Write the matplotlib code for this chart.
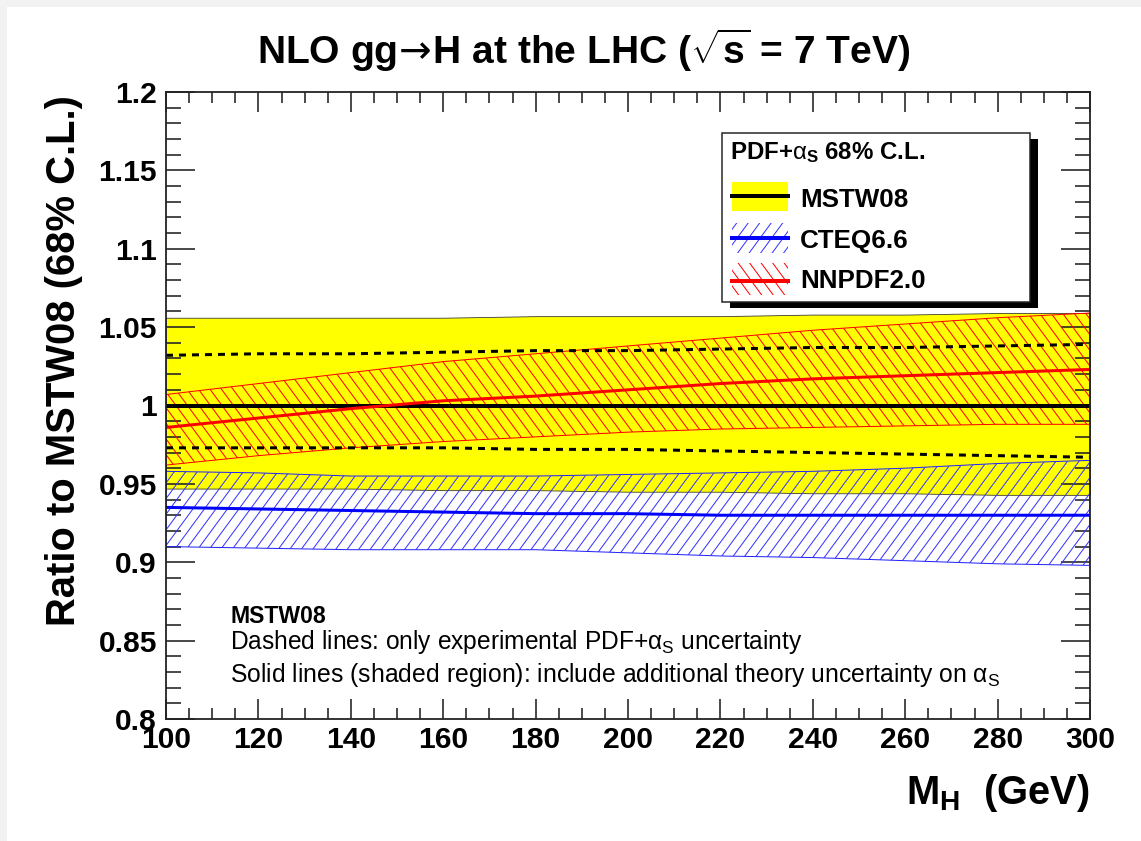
import numpy as np
import matplotlib
matplotlib.use("Agg")
from matplotlib import pyplot as plt
from matplotlib.patches import Rectangle
from matplotlib.collections import LineCollection
from matplotlib.ticker import MultipleLocator, FuncFormatter

# Higgs mass points (GeV)
mass = [100, 120, 140, 160, 180, 200, 220, 240, 260, 280, 300]

# MSTW08: full band (incl. alpha_s theory unc.) and experimental-only band
mstw_hi = [1.056, 1.056, 1.056, 1.056, 1.057, 1.057, 1.057, 1.058, 1.058, 1.059, 1.059]
mstw_lo = [0.947, 0.947, 0.947, 0.946, 0.946, 0.945, 0.945, 0.944, 0.944, 0.943, 0.943]
mstw_exp_hi = [1.032, 1.033, 1.033, 1.034, 1.035, 1.035, 1.036, 1.037, 1.037, 1.038, 1.039]
mstw_exp_lo = [0.973, 0.973, 0.973, 0.973, 0.972, 0.972, 0.971, 0.970, 0.969, 0.968, 0.967]
mstw_c = [1.0] * len(mass)

# CTEQ6.6
cteq_c = [0.935, 0.934, 0.933, 0.932, 0.931, 0.931, 0.930, 0.930, 0.930, 0.930, 0.930]
cteq_hi = [0.958, 0.957, 0.955, 0.955, 0.955, 0.956, 0.957, 0.958, 0.960, 0.963, 0.965]
cteq_lo = [0.910, 0.909, 0.908, 0.908, 0.908, 0.906, 0.904, 0.903, 0.901, 0.899, 0.898]

# NNPDF2.0
nnpdf_c = [0.986, 0.992, 0.998, 1.003, 1.006, 1.010, 1.014, 1.017, 1.019, 1.021, 1.023]
nnpdf_hi = [1.007, 1.014, 1.021, 1.028, 1.033, 1.038, 1.043, 1.048, 1.052, 1.056, 1.059]
nnpdf_lo = [0.962, 0.968, 0.973, 0.977, 0.980, 0.983, 0.985, 0.986, 0.987, 0.988, 0.988]

plt.rcParams['font.family'] = ['Liberation Sans', 'DejaVu Sans']
plt.rcParams['font.weight'] = 'bold'
plt.rcParams['mathtext.fontset'] = 'custom'
plt.rcParams['mathtext.rm'] = 'Liberation Sans:weight=normal'
plt.rcParams['mathtext.it'] = 'Liberation Sans:weight=normal'
plt.rcParams['mathtext.bf'] = 'Liberation Sans:weight=bold'
plt.rcParams['mathtext.sf'] = 'DejaVu Sans:weight=normal'
plt.rcParams['mathtext.default'] = 'rm'
plt.rcParams['lines.scale_dashes'] = False

W, H = 1141, 841
AX_W, AX_H = 924, 627
fig = plt.figure(figsize=(W / 72, H / 72), dpi=72)
fig.patch.set_facecolor('white')
# thin grey margin on the top and left
fig.patches.append(Rectangle((0, 1 - 7 / H), 1, 7 / H, transform=fig.transFigure,
                             facecolor='#f2f2f2', edgecolor='none', zorder=-10))
fig.patches.append(Rectangle((0, 0), 7 / W, 1, transform=fig.transFigure,
                             facecolor='#f2f2f2', edgecolor='none', zorder=-10))

ax = fig.add_axes([166 / W, 122 / H, AX_W / W, AX_H / H])


def hatch_lines(color, direction, clip, clip_trans=None, zorder=2):
    # diagonal hatching (about 54 deg on screen, 11.5 px apart) clipped to a shape
    step = 11.5 / AX_W
    run = 1.0 / (1.36 * AX_W / AX_H)
    segs = []
    for c in np.arange(-run - step, 1 + run + step, step):
        if direction > 0:
            segs.append([(c, 0), (c + run, 1)])
        else:
            segs.append([(c, 0), (c - run, 1)])
    lc = LineCollection(segs, colors=color, linewidths=1.0, transform=ax.transAxes, zorder=zorder)
    ax.add_collection(lc, autolim=False)
    if clip_trans is None:
        lc.set_clip_path(clip)
    else:
        lc.set_clip_path(clip, clip_trans)
    return lc


# bands
ax.fill_between(mass, mstw_lo, mstw_hi, facecolor='#ffff00', edgecolor='#333333', linewidth=0.8, zorder=1)
nn_band = ax.fill_between(mass, nnpdf_lo, nnpdf_hi, facecolor='none', edgecolor='#ff0000',
                          linewidth=1.0, zorder=2)
hatch_lines('#ff0000', -1, nn_band.get_paths()[0], ax.transData)
ct_band = ax.fill_between(mass, cteq_lo, cteq_hi, facecolor='none', edgecolor='#2222ff',
                          linewidth=1.0, zorder=2)
hatch_lines('#3333ff', 1, ct_band.get_paths()[0], ax.transData)

# central values and experimental-only MSTW08 limits
ax.plot(mass, mstw_exp_hi, color='black', linewidth=3, dashes=(7, 6), zorder=3)
ax.plot(mass, mstw_exp_lo, color='black', linewidth=3, dashes=(7, 6), zorder=3)
ax.plot(mass, mstw_c, color='black', linewidth=4, zorder=4)
ax.plot(mass, cteq_c, color='#0000ff', linewidth=3, zorder=4)
ax.plot(mass, nnpdf_c, color='#ff0000', linewidth=3, zorder=5)

ax.set_xlim(100, 300)
ax.set_ylim(0.8, 1.2)

ax.xaxis.set_major_locator(MultipleLocator(20))
ax.xaxis.set_minor_locator(MultipleLocator(5))
ax.yaxis.set_major_locator(MultipleLocator(0.05))
ax.yaxis.set_minor_locator(MultipleLocator(0.01))
ax.yaxis.set_major_formatter(FuncFormatter(lambda v, p: f"{v:g}"))

for side in ax.spines.values():
    side.set_linewidth(1.8)
    side.set_color('#222222')
    side.set_zorder(6)
ax.tick_params(which='both', direction='in', top=True, right=True, color='#222222', width=1.6,
               labelsize=30)
ax.tick_params(axis='x', which='major', length=20, pad=7)
ax.tick_params(axis='x', which='minor', length=11)
ax.tick_params(axis='y', which='major', length=29, pad=9)
ax.tick_params(axis='y', which='minor', length=15)

fig.text(584 / W, 1 - 64 / H,
         r"NLO gg$\!\mathsf{\rightarrow}\!$H at the LHC ($\sqrt{\mathbf{s}}$ = 7 TeV)", fontsize=39,
         fontweight='bold', ha='center', va='baseline')
ax.set_ylabel("Ratio to MSTW08 (68% C.L.)", fontsize=40, fontweight='bold', loc='top')
ax.yaxis.set_label_coords(-0.09, 0.995)
ax.set_xlabel(r"M$_{\mathbf{H}}$  (GeV)", fontsize=40, fontweight='bold', loc='right')
ax.xaxis.set_label_coords(1.0, -0.085)


def to_ax(px, py):
    return (px - 166) / AX_W, (719 - py) / AX_H


# explanatory notes
x0, y0 = to_ax(230, 623)
ax.text(x0, y0, "MSTW08", transform=ax.transAxes, fontsize=23, fontweight='bold', zorder=12)
x0, y0 = to_ax(230, 649)
ax.text(x0, y0, r"Dashed lines: only experimental PDF+$\alpha_{\mathrm{S}}$ uncertainty",
        transform=ax.transAxes, fontsize=24.5, fontweight='normal', zorder=12)
x0, y0 = to_ax(230, 682)
ax.text(x0, y0, r"Solid lines (shaded region): include additional theory uncertainty on $\alpha_{\mathrm{S}}$",
        transform=ax.transAxes, fontsize=24.8, fontweight='normal', zorder=12)

# legend box with drop shadow
lx0, ly0 = to_ax(722, 302)
lx1, ly1 = to_ax(1030, 133)
sdx, sdy = 8 / AX_W, 6 / AX_H
ax.add_patch(Rectangle((lx0 + sdx, ly0 - sdy), lx1 - lx0, ly1 - ly0, transform=ax.transAxes,
                       facecolor='black', edgecolor='none', zorder=9, clip_on=False))
ax.add_patch(Rectangle((lx0, ly0), lx1 - lx0, ly1 - ly0, transform=ax.transAxes,
                       facecolor='white', edgecolor='#222222', linewidth=1.5, zorder=10, clip_on=False))

hx, hy = to_ax(730, 159)
ax.text(hx, hy, r"PDF+$\alpha_{\mathbf{S}}$ 68% C.L.", transform=ax.transAxes, fontsize=24,
        fontweight='bold', zorder=12)

entries = [
    ("MSTW08", '#ffff00', 0, 'black', 182, 211, 196, 207),
    ("CTEQ6.6", 'none', 1, '#0000ff', 223, 253, 238, 248),
    ("NNPDF2.0", 'none', -1, '#ff0000', 263, 295, 281, 288),
]
for name, fc, hatch_dir, col, top, bot, mid, base in entries:
    bx0, by0 = to_ax(732, bot)
    bx1, by1 = to_ax(788, top)
    box = Rectangle((bx0, by0), bx1 - bx0, by1 - by0, transform=ax.transAxes,
                    facecolor=fc, edgecolor='none', zorder=11, clip_on=False)
    ax.add_patch(box)
    if hatch_dir:
        hatch_lines(col if col != '#0000ff' else '#3333ff', hatch_dir, box, zorder=11)
    mx0, my = to_ax(732, mid)
    mx1, _ = to_ax(788, mid)
    ax.plot([mx0, mx1], [my, my], transform=ax.transAxes, color=col, linewidth=4, zorder=12,
            clip_on=False)
    tx, ty = to_ax(800, base)
    ax.text(tx, ty, name, transform=ax.transAxes, fontsize=26, fontweight='bold', zorder=12)

ax.set_xlim(100, 300)
ax.set_ylim(0.8, 1.2)

fig.savefig("out.png", dpi=72)
